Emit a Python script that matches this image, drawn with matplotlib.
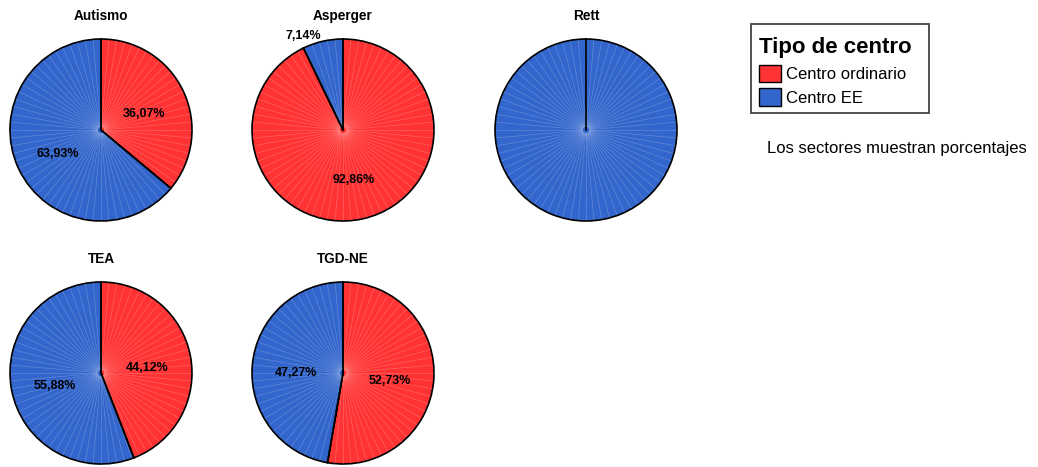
import numpy as np
import matplotlib
matplotlib.use("Agg")
import matplotlib.pyplot as plt
from matplotlib.patches import Patch, Rectangle

plt.rcParams['font.family'] = ['Liberation Sans', 'DejaVu Sans']

groups = ["Autismo", "Asperger", "Rett", "TEA", "TGD-NE"]
centro_ordinario = [36.07, 92.86, 0.0, 44.12, 52.73]
centro_ee = [63.93, 7.14, 100.0, 55.88, 47.27]
categories = ["Centro ordinario", "Centro EE"]
colors = ["#FF3333", "#3366CC"]

W, H = 1038, 467
fig = plt.figure(figsize=(W / 100, H / 100), dpi=100)

# pie centres in pixels (x, y from top)
centers = [(101, 130), (343, 130), (586, 130), (101, 373), (343, 373)]
R = 91
lim = 1.35
side = 2 * lim * R

for name, v1, v2, (cx, cy) in zip(groups, centro_ordinario, centro_ee, centers):
    ax = fig.add_axes([(cx - side / 2) / W, (H - cy - side / 2) / H, side / W, side / H])
    vals = [v1, v2]
    ax.pie(vals, colors=colors, startangle=90, counterclock=False, radius=1,
           wedgeprops=dict(edgecolor="black", linewidth=1.2))
    # faint radial texture
    for a in np.deg2rad(np.arange(0, 360, 5)):
        ax.plot([0.04 * np.cos(a), 0.99 * np.cos(a)], [0.04 * np.sin(a), 0.99 * np.sin(a)],
                color="white", lw=0.5, alpha=0.22, zorder=3)
    # boundary lines above texture
    ang = 90.0
    for v in vals:
        if 0 < v < 100:
            t = np.deg2rad(ang)
            ax.plot([0, np.cos(t)], [0, np.sin(t)], color="black", lw=1.2, zorder=4)
        ang -= v * 3.6
    if v1 == 0:
        ax.plot([0, 0], [0, 1], color="black", lw=1.2, zorder=4)
    # labels
    ang = 90.0
    for v in vals:
        mid = ang - v * 1.8
        ang -= v * 3.6
        if v <= 0 or v >= 100:
            continue
        t = np.deg2rad(mid)
        txt = f"{v:.2f}%".replace(".", ",")
        if v >= 10:
            ax.text(0.52 * np.cos(t), 0.52 * np.sin(t) - 0.045, txt, ha="center",
                    va="center", fontsize=9, fontweight="bold", zorder=5)
        else:
            ax.text(1.06 * np.cos(t), 1.06 * np.sin(t), txt, ha="right",
                    va="center", fontsize=9, fontweight="bold", zorder=5)
    ax.text(0, 1.25, name, ha="center", va="center", fontsize=9.8, fontweight="bold")
    ax.set_xlim(-lim, lim)
    ax.set_ylim(-lim, lim)
    ax.set_aspect("equal")
    ax.axis("off")

# legend frame drawn separately
fig.patches.append(Rectangle((751 / W, 1 - 113 / H), 178 / W, 89 / H, transform=fig.transFigure,
                             facecolor="white", edgecolor="#444444", linewidth=1.3, zorder=1))
handles = [Patch(facecolor=c, edgecolor="black", label=l) for c, l in zip(colors, categories)]
leg = fig.legend(handles=handles, title="Tipo de centro", loc="upper left",
                 bbox_to_anchor=(759 / W, 1 - 37 / H), fontsize=12, frameon=False,
                 handlelength=1.3, handleheight=1.2, handletextpad=0.3,
                 labelspacing=0.4, borderpad=0, borderaxespad=0)
leg.get_title().set_fontsize(16)
leg.get_title().set_fontweight("bold")
leg._legend_box.align = "left"
leg.set_zorder(2)

fig.text(767 / W, 1 - 148 / H, "Los sectores muestran porcentajes", fontsize=12,
         ha="left", va="center")

fig.savefig("out.png", dpi=100)
